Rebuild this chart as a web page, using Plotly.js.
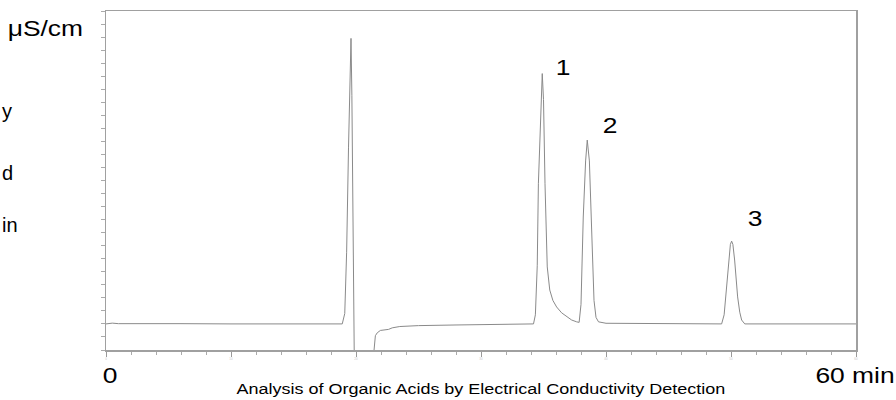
<!DOCTYPE html>
<html>
<head>
<meta charset="utf-8">
<script src="https://cdn.plot.ly/plotly-3.0.1.min.js"></script>
<style>html,body{margin:0;padding:0;background:#fff;}#chart{width:896px;height:400px;}</style>
</head>
<body>
<div id="chart"></div>
<script>
// Retention time (min) of each read point of the chromatogram trace
const timeMin = [0, 0.5, 1.0, 3, 6, 10, 14, 17, 18.9, 19.1, 19.25, 19.4, 19.52, 19.6, 19.67, 19.74, 19.8, 19.84, 19.87,
  21.3, 21.42, 21.47, 21.55, 21.7, 21.95, 22.6, 22.9, 23.5, 25, 28, 31, 33.5, 34.2,
  34.35, 34.5, 34.59, 34.78, 34.9, 35.0, 35.12, 35.3, 35.5, 35.75, 36.05, 36.45, 36.85, 37.25, 37.65, 37.85,
  38.0, 38.18, 38.37, 38.5, 38.67, 38.86, 39.04, 39.2, 39.4, 40, 43, 46, 48.5, 49.25,
  49.45, 49.6, 49.81, 49.95, 50.05, 50.15, 50.29, 50.53, 50.7, 50.85, 51.1, 53, 56, 60];
// Conductivity signal (one unit = one y tick)
const signal = [0, 0.06, 0.02, 0, 0.02, 0, 0.01, 0, 0, 0.8, 5.5, 13.5, 19.8, 21.9, 17.5, 9.5, 2.5, -0.5, -3.5,
  -3.5, -2.1, -1.4, -0.9, -0.68, -0.5, -0.42, -0.3, -0.2, -0.13, -0.08, -0.05, -0.02, 0,
  0.7, 4.5, 10.75, 17.1, 19.2, 17.2, 10.75, 4.37, 2.6, 1.8, 1.3, 0.85, 0.54, 0.3, 0.16, 0.12,
  1.5, 8.2, 12.5, 14.1, 12.5, 6.9, 1.8, 0.5, 0.16, 0.05, 0.02, 0, 0, 0,
  0.7, 2.35, 4.9, 6.1, 6.35, 6.1, 4.9, 2.07, 0.9, 0.3, 0, 0, 0, 0];
const peakLabels = ["1", "2", "3"];
const peakLabelTime = [36.56, 40.32, 51.92];
const peakLabelValue = [19.63, 15.2, 8.09];
const xTickVals = [0, 10, 20, 30, 40, 50, 60];
const xTickText = ["0", "10", "20", "30", "40", "50", "60"];
const chartTitle = "Analysis of Organic Acids by Electrical Conductivity Detection";
const unitLabel = "\u03bcS/cm";
const startLabel = "0";
const endLabel = "60 min";
const clippedLabels = ["y", "d", "in"];

const FONT = "Arial, 'Liberation Sans', sans-serif";
const STRETCH = 1.2;
const plotL = 106, plotW = 750, plotB = 350, plotH = 339;
const px = x => (x - plotL) / plotW;
const py = y => (plotB - y) / plotH;

const annotations = [];
const stretched = [];
peakLabels.forEach((t, i) => {
  stretched.push(annotations.length);
  annotations.push({
    text: t, x: peakLabelTime[i], y: peakLabelValue[i], xref: 'x', yref: 'y',
    xanchor: 'center', yanchor: 'middle',
    showarrow: false, font: {family: FONT, size: 22, color: '#000'}
  });
});
stretched.push(annotations.length);
annotations.push({text: unitLabel, x: px(45.5), y: py(28), xref: 'paper', yref: 'paper',
  xanchor: 'center', yanchor: 'middle',
  showarrow: false, font: {family: FONT, size: 22, color: '#000'}});
stretched.push(annotations.length);
annotations.push({text: startLabel, x: px(110), y: py(375), xref: 'paper', yref: 'paper',
  xanchor: 'center', yanchor: 'middle',
  showarrow: false, font: {family: FONT, size: 22, color: '#000'}});
stretched.push(annotations.length);
annotations.push({text: endLabel, x: px(855), y: py(375), xref: 'paper', yref: 'paper',
  xanchor: 'center', yanchor: 'middle',
  showarrow: false, font: {family: FONT, size: 22, color: '#000'}});
stretched.push(annotations.length);
annotations.push({text: chartTitle, x: px(481), y: py(388), xref: 'paper', yref: 'paper',
  xanchor: 'center', yanchor: 'middle',
  showarrow: false, font: {family: FONT, size: 15, color: '#000'}});
const clipY = [111, 173, 225];
const clipLeft = [0, 0, 0];
clippedLabels.forEach((t, i) => annotations.push({
  text: t, x: px(clipLeft[i]), y: py(clipY[i]), xref: 'paper', yref: 'paper',
  xanchor: 'left', yanchor: 'middle', showarrow: false, font: {family: FONT, size: 20, color: '#000'}
}));

const trace = {
  x: timeMin, y: signal, type: 'scatter', mode: 'lines',
  line: {color: '#8a8a8a', width: 1}, hoverinfo: 'skip', showlegend: false
};

const layout = {
  width: 896, height: 400,
  margin: {l: 106, r: 40, t: 11, b: 50, pad: 0},
  paper_bgcolor: '#fff', plot_bgcolor: '#fff',
  xaxis: {range: [0, 60], showgrid: false, zeroline: false, showline: true, mirror: true,
    linecolor: '#a0a0a0', linewidth: 1.5, ticks: 'outside', ticklen: 5, tickwidth: 1, tickcolor: '#999',
    tickvals: xTickVals, ticktext: xTickText, tickfont: {family: FONT, size: 3, color: '#c8c8c8'},
    minor: {dtick: 2, tick0: 0, ticks: 'outside', ticklen: 3, tickcolor: '#aaa', tickwidth: 1, showgrid: false}},
  yaxis: {range: [-2, 24], showgrid: false, zeroline: false, showline: true, mirror: true,
    linecolor: '#a0a0a0', linewidth: 1.5, ticks: 'outside', ticklen: 4, tickwidth: 1, tickcolor: '#aaa',
    dtick: 1, tick0: 0, showticklabels: false},
  annotations: annotations
};

Plotly.newPlot('chart', [trace], layout, {staticPlot: true, displayModeBar: false}).then(gd => {
  gd.querySelectorAll('.annotation').forEach(g => {
    const idx = +g.getAttribute('data-index');
    if (stretched.includes(idx)) {
      const t = g.querySelector('text.annotation-text');
      if (t) {
        t.style.transformBox = 'fill-box';
        t.style.transformOrigin = 'center';
        t.style.transform = 'scaleX(' + STRETCH + ')';
      }
    }
  });
});
</script>
</body>
</html>
